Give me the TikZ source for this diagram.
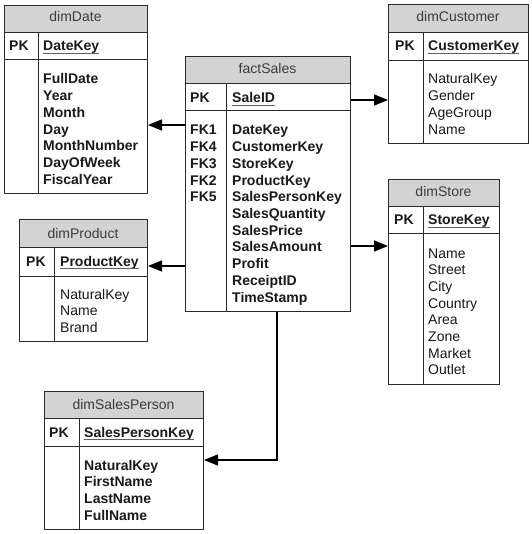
\documentclass[tikz,border=0pt]{standalone}
\usepackage{fontspec}
\setmainfont{Liberation Sans}
\usetikzlibrary{arrows.meta}
\definecolor{hdrgray}{HTML}{D3D3D3}
\definecolor{edge}{HTML}{2A2A2A}
\definecolor{ink}{HTML}{1A1A1A}
\begin{document}
\begin{tikzpicture}[x=1pt,y=-1pt,
  cellbox/.style={draw=edge, line width=1pt, inner sep=0pt, anchor=north west, fill=white},
  hdrbox/.style={cellbox, fill=hdrgray},
  divider/.style={draw=edge, line width=1pt},
  txt/.style={anchor=base west, inner sep=0pt, text=ink, font=\fontsize{14}{16.7}\selectfont},
  btxt/.style={txt, font=\fontsize{14}{16.7}\selectfont\bfseries},
  htxt/.style={anchor=base, inner sep=0pt, text=ink!85, font=\fontsize{14}{16.7}\selectfont},
  keyline/.style={draw=ink!70, line width=1.1pt},
  arr/.style={draw=black, line width=1.5pt, -{Triangle[length=14pt,width=11pt]}}
]
\useasboundingbox (0,0) rectangle (531,534);

% ---------- dimDate ----------
\node[hdrbox, minimum width=143pt, minimum height=27pt] (date-h) at (4,5) {};
\node[cellbox, minimum width=143pt, minimum height=27pt] (date-pk) at (4,32) {};
\node[cellbox, minimum width=143pt, minimum height=134pt] (date-b) at (4,59) {};
\draw[divider] (38,32) -- (38,193);
\node[htxt] (date-t) at (75.5,22) {dimDate};
\node[btxt] (date-pkl) at (9,51) {PK};
\node[btxt] (date-k) at (43,51) {DateKey};
\draw[keyline] ([yshift=-2.5pt]date-k.base west) -- ([yshift=-2.5pt]date-k.base east);
\foreach \t [count=\i] in {FullDate,Year,Month,Day,MonthNumber,DayOfWeek,FiscalYear}
  \node[btxt] (date-r\i) at (43,{84+16.7*(\i-1)}) {\t};

% ---------- factSales ----------
\node[hdrbox, minimum width=165pt, minimum height=27pt] (fact-h) at (185,56) {};
\node[cellbox, minimum width=165pt, minimum height=27pt] (fact-pk) at (185,83) {};
\node[cellbox, minimum width=165pt, minimum height=201pt] (fact-b) at (185,110) {};
\draw[divider] (226,83) -- (226,311);
\node[htxt] (fact-t) at (267.5,74) {factSales};
\node[btxt] (fact-pkl) at (190,103) {PK};
\node[btxt] (fact-k) at (232,103) {SaleID};
\draw[keyline] ([yshift=-2.5pt]fact-k.base west) -- ([yshift=-2.5pt]fact-k.base east);
\foreach \t [count=\i] in {FK1,FK4,FK3,FK2,FK5}
  \node[btxt] (fact-fk\i) at (190,{135+16.7*(\i-1)}) {\t};
\foreach \t [count=\i] in {DateKey,CustomerKey,StoreKey,ProductKey,SalesPersonKey,SalesQuantity,SalesPrice,SalesAmount,Profit,ReceiptID,TimeStamp}
  \node[btxt] (fact-r\i) at (232,{135+16.7*(\i-1)}) {\t};

% ---------- dimCustomer ----------
\node[hdrbox, minimum width=140pt, minimum height=28pt] (cust-h) at (388,4) {};
\node[cellbox, minimum width=140pt, minimum height=28pt] (cust-pk) at (388,32) {};
\node[cellbox, minimum width=140pt, minimum height=83pt] (cust-b) at (388,60) {};
\draw[divider] (423,32) -- (423,143);
\node[htxt] (cust-t) at (458,22) {dimCustomer};
\node[btxt] (cust-pkl) at (395,51) {PK};
\node[btxt] (cust-k) at (428,51) {CustomerKey};
\draw[keyline] ([yshift=-2.5pt]cust-k.base west) -- ([yshift=-2.5pt]cust-k.base east);
\foreach \t [count=\i] in {NaturalKey,Gender,AgeGroup,Name}
  \node[txt] (cust-r\i) at (428,{84+16.7*(\i-1)}) {\t};

% ---------- dimStore ----------
\node[hdrbox, minimum width=111pt, minimum height=27pt] (store-h) at (388,179) {};
\node[cellbox, minimum width=111pt, minimum height=27pt] (store-pk) at (388,206) {};
\node[cellbox, minimum width=111pt, minimum height=151pt] (store-b) at (388,233) {};
\draw[divider] (423,206) -- (423,384);
\node[htxt] (store-t) at (443.5,197) {dimStore};
\node[btxt] (store-pkl) at (394,225) {PK};
\node[btxt] (store-k) at (428,225) {StoreKey};
\draw[keyline] ([yshift=-2.5pt]store-k.base west) -- ([yshift=-2.5pt]store-k.base east);
\foreach \t [count=\i] in {Name,Street,City,Country,Area,Zone,Market,Outlet}
  \node[txt] (store-r\i) at (428,{258+16.7*(\i-1)}) {\t};

% ---------- dimProduct ----------
\node[hdrbox, minimum width=128pt, minimum height=28pt] (prod-h) at (19,219) {};
\node[cellbox, minimum width=128pt, minimum height=29pt] (prod-pk) at (19,247) {};
\node[cellbox, minimum width=128pt, minimum height=65pt] (prod-b) at (19,276) {};
\draw[divider] (54,247) -- (54,341);
\node[htxt] (prod-t) at (83,238) {dimProduct};
\node[btxt] (prod-pkl) at (26,266) {PK};
\node[btxt] (prod-k) at (60,266) {ProductKey};
\draw[keyline] ([yshift=-2.5pt]prod-k.base west) -- ([yshift=-2.5pt]prod-k.base east);
\foreach \t [count=\i] in {NaturalKey,Name,Brand}
  \node[txt] (prod-r\i) at (60,{299+16.7*(\i-1)}) {\t};

% ---------- dimSalesPerson ----------
\node[hdrbox, minimum width=159pt, minimum height=27pt] (sp-h) at (44,391) {};
\node[cellbox, minimum width=159pt, minimum height=28pt] (sp-pk) at (44,418) {};
\node[cellbox, minimum width=159pt, minimum height=83pt] (sp-b) at (44,446) {};
\draw[divider] (79,418) -- (79,529);
\node[htxt] (sp-t) at (123.5,409) {dimSalesPerson};
\node[btxt] (sp-pkl) at (49,437) {PK};
\node[btxt] (sp-k) at (84,437) {SalesPersonKey};
\draw[keyline] ([yshift=-2.5pt]sp-k.base west) -- ([yshift=-2.5pt]sp-k.base east);
\foreach \t [count=\i] in {NaturalKey,FirstName,LastName,FullName}
  \node[btxt] (sp-r\i) at (84,{470+16.7*(\i-1)}) {\t};

% ---------- connectors ----------
\coordinate (c1) at (166,125);
\coordinate (c2) at (369,100);
\coordinate (c3) at (369,246);
\coordinate (c4) at (166,266);
\coordinate (c5) at (277,460);
\draw[arr] (fact-b.west |- c1) -- (date-b.east |- c1);
\draw[arr] (fact-pk.east |- c2) -- (cust-b.west |- c2);
\draw[arr] (fact-b.east |- c3) -- (store-b.west |- c3);
\draw[arr] (fact-b.west |- c4) -- (prod-pk.east |- c4);
\draw[arr] (fact-b.south -| c5) -- (c5) -- (sp-b.east |- c5);
\end{tikzpicture}
\end{document}
